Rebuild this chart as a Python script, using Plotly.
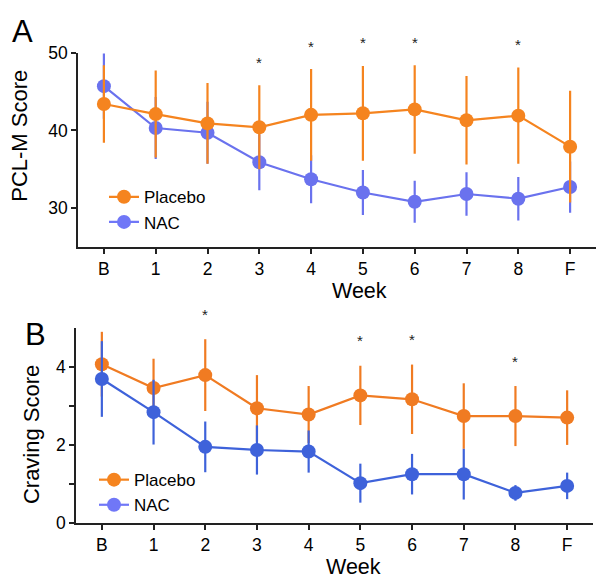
import plotly.graph_objects as go

weeks = ["B", "1", "2", "3", "4", "5", "6", "7", "8", "F"]

# Panel A: PCL-M score
pcl_placebo = [43.4, 42.1, 40.9, 40.4, 42.0, 42.2, 42.7, 41.3, 41.9, 37.9]
pcl_placebo_sd = [5.0, 5.6, 5.2, 5.4, 5.9, 6.1, 5.7, 5.7, 6.2, 7.2]
pcl_nac = [45.7, 40.3, 39.7, 35.9, 33.7, 32.0, 30.8, 31.8, 31.2, 32.7]
pcl_nac_sd = [4.2, 4.0, 4.0, 3.6, 3.1, 2.9, 2.7, 2.8, 2.8, 3.3]
pcl_sig = ["3", "4", "5", "6", "8"]

# Panel B: craving score
crav_placebo = [4.07, 3.46, 3.79, 2.94, 2.78, 3.27, 3.17, 2.74, 2.74, 2.70]
crav_placebo_sd = [0.83, 0.75, 0.92, 0.85, 0.73, 0.76, 0.89, 0.84, 0.77, 0.70]
crav_nac = [3.69, 2.84, 1.95, 1.87, 1.83, 1.02, 1.25, 1.25, 0.77, 0.95]
crav_nac_sd = [0.97, 0.83, 0.65, 0.63, 0.54, 0.50, 0.52, 0.65, 0.20, 0.34]
crav_sig = ["2", "5", "6", "8"]

ORANGE_A = "#f5841f"
BLUE_A = "#6a72ee"
ORANGE_B = "#f07b22"
BLUE_B = "#3e62da"
LEG_ORANGE = "#f5841f"
LEG_BLUE = "#7077f7"
FONT = "Liberation Sans, Arial, sans-serif"
AX = "#222222"

# page body has an 8px default margin; size the figure to fill the window
OFF = 8
W, H = 604 - OFF, 587 - OFF


def px_x(p):
    return (p - OFF) / W


def px_y(p):
    return 1 - (p - OFF) / H


fig = go.Figure()


def add_series(x, y, sd, color, xa, ya):
    fig.add_trace(go.Scatter(
        x=x, y=y, mode="lines+markers",
        line=dict(color=color, width=2.2),
        marker=dict(color=color, size=14),
        error_y=dict(type="data", array=sd, visible=True, color=color,
                     thickness=2.2, width=0),
        xaxis=xa, yaxis=ya, showlegend=False, hoverinfo="skip"))


# Panel A (orange drawn on top)
add_series(weeks, pcl_nac, pcl_nac_sd, BLUE_A, "x", "y")
add_series(weeks, pcl_placebo, pcl_placebo_sd, ORANGE_A, "x", "y")
# Panel B (blue drawn on top)
add_series(weeks, crav_placebo, crav_placebo_sd, ORANGE_B, "x2", "y2")
add_series(weeks, crav_nac, crav_nac_sd, BLUE_B, "x2", "y2")

# legend entries
for name, col, leg, xa, ya in [("Placebo", LEG_ORANGE, "legend", "x", "y"),
                               ("NAC", LEG_BLUE, "legend", "x", "y"),
                               ("Placebo", LEG_ORANGE, "legend2", "x2", "y2"),
                               ("NAC", LEG_BLUE, "legend2", "x2", "y2")]:
    fig.add_trace(go.Scatter(
        x=[None], y=[None], mode="lines+markers", name=name,
        line=dict(color=col, width=2.2), marker=dict(color=col, size=14),
        xaxis=xa, yaxis=ya, legend=leg, showlegend=True))

annotations = []
# significance stars
for weeks_sig, mean, sd, xr, yr, shift in [
        (pcl_sig, pcl_placebo, pcl_placebo_sd, "x", "y", 23),
        (crav_sig, crav_placebo, crav_placebo_sd, "x2", "y2", 25)]:
    for w in weeks_sig:
        i = weeks.index(w)
        annotations.append(dict(x=w, y=mean[i] + sd[i], xref=xr, yref=yr,
                                text="*", showarrow=False, yanchor="middle",
                                yshift=shift, font=dict(size=15, color="#222", family=FONT)))

# panel letters
annotations.append(dict(x=px_x(22), y=px_y(22), xref="paper", yref="paper", text="A",
                        showarrow=False, xanchor="center", yanchor="middle",
                        font=dict(size=31, color="black", family=FONT)))
annotations.append(dict(x=px_x(35), y=px_y(336), xref="paper", yref="paper", text="B",
                        showarrow=False, xanchor="center", yanchor="middle",
                        font=dict(size=31, color="black", family=FONT)))
# y-axis titles
annotations.append(dict(x=px_x(19), y=px_y(130), xref="paper", yref="paper",
                        text="PCL-M Score", textangle=-90, showarrow=False,
                        xanchor="center", yanchor="middle", height=18, borderpad=0,
                        font=dict(size=22, color="black", family=FONT)))
annotations.append(dict(x=px_x(31), y=px_y(440), xref="paper", yref="paper",
                        text="Craving Score", textangle=-90, showarrow=False,
                        xanchor="center", yanchor="middle",
                        font=dict(size=22, color="black", family=FONT)))
# x-axis titles
annotations.append(dict(x=px_x(359), y=px_y(291), xref="paper", yref="paper",
                        text="Week", showarrow=False, xanchor="center", yanchor="middle",
                        font=dict(size=21.5, color="black", family=FONT)))
annotations.append(dict(x=px_x(353), y=px_y(577), xref="paper", yref="paper",
                        text="Week", showarrow=False, xanchor="center", yanchor="middle",
                        font=dict(size=21.5, color="black", family=FONT)))

axis_common = dict(showline=True, linecolor=AX, linewidth=1.6, ticks="outside",
                   ticklen=5, tickwidth=1.6, tickcolor=AX, showgrid=False,
                   zeroline=False, mirror=False,
                   tickfont=dict(size=17.5, color="black", family=FONT))

fig.update_layout(
    width=W, height=H,
    margin=dict(l=0, r=0, t=0, b=0),
    paper_bgcolor="white", plot_bgcolor="white",
    font=dict(family=FONT),
    xaxis=dict(domain=[px_x(78), px_x(596)], anchor="y", type="category",
               categoryorder="array", categoryarray=weeks, range=[-0.5, 9.5],
               **axis_common),
    yaxis=dict(domain=[px_y(245), px_y(44)], anchor="x", range=[25, 50],
               tickvals=[30, 40, 50], **axis_common),
    xaxis2=dict(domain=[px_x(76), px_x(593)], anchor="y2", type="category",
                categoryorder="array", categoryarray=weeks, range=[-0.5, 9.5],
                **axis_common),
    yaxis2=dict(domain=[px_y(531), px_y(329)], anchor="x2", range=[0, 5],
                tickvals=[0, 1, 2, 3, 4], ticktext=["0", "", "2", "", "4"],
                **axis_common),
    legend=dict(x=px_x(104), y=px_y(175), xanchor="left", yanchor="top",
                bgcolor="rgba(0,0,0,0)", font=dict(size=17, color="black", family=FONT),
                tracegroupgap=0, itemwidth=30),
    legend2=dict(x=px_x(94), y=px_y(468), xanchor="left", yanchor="top",
                 bgcolor="rgba(0,0,0,0)", font=dict(size=17, color="black", family=FONT),
                 tracegroupgap=0, itemwidth=30),
    annotations=annotations,
)

fig.write_html("out.html")
